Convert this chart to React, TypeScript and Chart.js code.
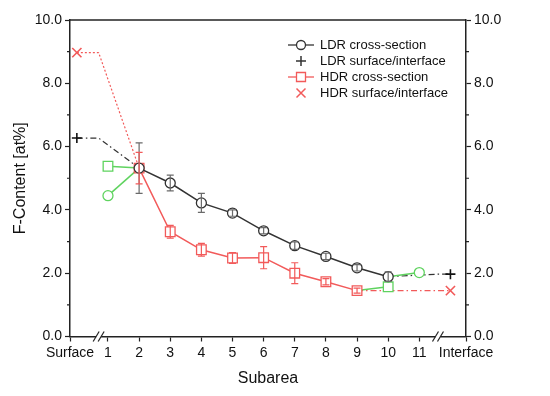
import React, { useEffect, useRef } from 'react';
import { Chart, registerables } from 'chart.js';

Chart.register(...registerables);

// ---- data ----
const subareas = [1, 2, 3, 4, 5, 6, 7, 8, 9, 10, 11];
const surfaceLabel = 'Surface';
const interfaceLabel = 'Interface';
const surfaceX = 0;
const interfaceX = 12;
const axisMinX = -0.22;
const axisMaxX = 12.5;
const breakLeftX = 0.7;
const breakRightX = 11.6;

const yTicks = [0, 2, 4, 6, 8, 10];
const yMinorTicks = [1, 3, 5, 7, 9];

const ldrX = [2, 3, 4, 5, 6, 7, 8, 9, 10];
const ldrY = [5.32, 4.85, 4.22, 3.9, 3.34, 2.87, 2.53, 2.17, 1.89];
const ldrErr = [0.8, 0.25, 0.3, 0.1, 0.1, 0.12, 0.1, 0.1, 0.15];

const hdrX = [2, 3, 4, 5, 6, 7, 8, 9];
const hdrY = [5.32, 3.31, 2.74, 2.48, 2.49, 2.0, 1.73, 1.45];
const hdrErr = [0.5, 0.2, 0.2, 0.17, 0.35, 0.33, 0.1, 0.08];

const ldrEdgeX = [1, 11];
const ldrEdgeY = [4.45, 2.02];
const hdrEdgeX = [1, 10];
const hdrEdgeY = [5.38, 1.57];

const ldrSurfaceY = 6.27;
const ldrInterfaceY = 1.97;
const hdrSurfaceY = 8.97;
const hdrInterfaceY = 1.45;

const legendLabels = ['LDR cross-section', 'LDR surface/interface', 'HDR cross-section', 'HDR surface/interface'];

// ---- styles ----
const FONT = '"Liberation Sans", Arial, Helvetica, sans-serif';
const INK = '#111111';
const AXIS = '#222222';
const LDR_COLOR = '#333333';
const LDR_ERR = '#6a6a6a';
const HDR_COLOR = '#f25a5a';
const GREEN = '#5fd35f';

const pts = (xs: number[], ys: number[]) => xs.map((x, i) => ({ x, y: ys[i] }));

const decorPlugin = {
  id: 'decor',
  afterDatasetsDraw(chart: any) {
    const { ctx, scales } = chart;
    const xs = scales.x;
    const ys = scales.y;
    const drawErr = (X: number[], Y: number[], E: number[], color: string) => {
      ctx.save();
      ctx.strokeStyle = color;
      ctx.lineWidth = 1.2;
      X.forEach((x, i) => {
        const px = xs.getPixelForValue(x);
        const t = ys.getPixelForValue(Y[i] + E[i]);
        const b = ys.getPixelForValue(Y[i] - E[i]);
        ctx.beginPath();
        ctx.moveTo(px, t);
        ctx.lineTo(px, b);
        ctx.moveTo(px - 3.5, t);
        ctx.lineTo(px + 3.5, t);
        ctx.moveTo(px - 3.5, b);
        ctx.lineTo(px + 3.5, b);
        ctx.stroke();
      });
      ctx.restore();
    };
    drawErr(ldrX, ldrY, ldrErr, LDR_ERR);
    drawErr(hdrX, hdrY, hdrErr, HDR_COLOR);
  },
  afterDraw(chart: any) {
    const { ctx, chartArea, scales } = chart;
    const { left, right, top, bottom } = chartArea;
    ctx.save();
    // top frame
    ctx.strokeStyle = AXIS;
    ctx.lineWidth = 1.5;
    ctx.beginPath();
    ctx.moveTo(left, top);
    ctx.lineTo(right, top);
    ctx.stroke();
    // minor ticks
    ctx.lineWidth = 1.2;
    yMinorTicks.forEach((v) => {
      const py = scales.y.getPixelForValue(v);
      ctx.beginPath();
      ctx.moveTo(left - 3, py);
      ctx.lineTo(left, py);
      ctx.moveTo(right, py);
      ctx.lineTo(right + 3, py);
      ctx.stroke();
    });
    // axis breaks
    [breakLeftX, breakRightX].forEach((bx) => {
      const px = scales.x.getPixelForValue(bx);
      ctx.fillStyle = '#ffffff';
      ctx.fillRect(px - 2.5, bottom - 2, 5, 4);
      ctx.strokeStyle = AXIS;
      ctx.lineWidth = 1.2;
      [-2.5, 2.5].forEach((o) => {
        ctx.beginPath();
        ctx.moveTo(px + o - 3, bottom + 5);
        ctx.lineTo(px + o + 3, bottom - 5);
        ctx.stroke();
      });
    });
    // legend
    const cx = right - 165;
    const tx = right - 146;
    const y0 = top + 25;
    const dy = 16;
    ctx.font = `13px ${FONT}`;
    ctx.textBaseline = 'middle';
    ctx.textAlign = 'left';
    legendLabels.forEach((lab, i) => {
      const yy = y0 + i * dy;
      const isHdr = i >= 2;
      const col = isHdr ? HDR_COLOR : LDR_COLOR;
      ctx.strokeStyle = col;
      ctx.lineWidth = 1.3;
      if (i === 0 || i === 2) {
        ctx.beginPath();
        ctx.moveTo(cx - 13, yy);
        ctx.lineTo(cx + 13, yy);
        ctx.stroke();
        ctx.fillStyle = '#ffffff';
        ctx.beginPath();
        if (i === 0) ctx.arc(cx, yy, 4.5, 0, Math.PI * 2);
        else ctx.rect(cx - 4.5, yy - 4.5, 9, 9);
        ctx.fill();
        ctx.stroke();
      } else if (i === 1) {
        ctx.lineWidth = 1.5;
        ctx.beginPath();
        ctx.moveTo(cx - 5, yy);
        ctx.lineTo(cx + 5, yy);
        ctx.moveTo(cx, yy - 5);
        ctx.lineTo(cx, yy + 5);
        ctx.stroke();
      } else {
        ctx.lineWidth = 1.5;
        ctx.beginPath();
        ctx.moveTo(cx - 4.5, yy - 4.5);
        ctx.lineTo(cx + 4.5, yy + 4.5);
        ctx.moveTo(cx + 4.5, yy - 4.5);
        ctx.lineTo(cx - 4.5, yy + 4.5);
        ctx.stroke();
      }
      ctx.fillStyle = INK;
      ctx.fillText(lab, tx, yy);
    });
    ctx.restore();
  },
};

export default function App() {
  const canvasRef = useRef<HTMLCanvasElement | null>(null);

  useEffect(() => {
    const canvas = canvasRef.current;
    if (!canvas) return;

    const datasets: any[] = [
      {
        label: legendLabels[0],
        data: pts(ldrX, ldrY),
        borderColor: LDR_COLOR,
        borderWidth: 1.5,
        pointStyle: 'circle',
        pointRadius: 5,
        pointBorderWidth: 1.3,
        pointBorderColor: LDR_COLOR,
        pointBackgroundColor: 'rgba(255,255,255,1)',
      },
      {
        label: legendLabels[2],
        data: pts(hdrX, hdrY),
        borderColor: HDR_COLOR,
        borderWidth: 1.5,
        pointStyle: 'rect',
        pointRadius: 6.8,
        pointBorderWidth: 1.3,
        pointBorderColor: HDR_COLOR,
        pointBackgroundColor: 'rgba(255,255,255,1)',
      },
      // green edge subareas
      {
        label: 'ldr-edge-left',
        data: [{ x: ldrEdgeX[0], y: ldrEdgeY[0] }, { x: ldrX[0], y: ldrY[0] }],
        borderColor: GREEN,
        borderWidth: 1.5,
        pointStyle: 'circle',
        pointRadius: [5, 0],
        pointBorderWidth: 1.3,
        pointBorderColor: GREEN,
        pointBackgroundColor: '#ffffff',
      },
      {
        label: 'ldr-edge-right',
        data: [{ x: ldrX[ldrX.length - 1], y: ldrY[ldrY.length - 1] }, { x: ldrEdgeX[1], y: ldrEdgeY[1] }],
        borderColor: GREEN,
        borderWidth: 1.5,
        pointStyle: 'circle',
        pointRadius: [0, 5],
        pointBorderWidth: 1.3,
        pointBorderColor: GREEN,
        pointBackgroundColor: '#ffffff',
      },
      {
        label: 'hdr-edge-left',
        data: [{ x: hdrEdgeX[0], y: hdrEdgeY[0] }, { x: hdrX[0], y: hdrY[0] }],
        borderColor: GREEN,
        borderWidth: 1.5,
        pointStyle: 'rect',
        pointRadius: [6.8, 0],
        pointBorderWidth: 1.3,
        pointBorderColor: GREEN,
        pointBackgroundColor: '#ffffff',
      },
      {
        label: 'hdr-edge-right',
        data: [{ x: hdrX[hdrX.length - 1], y: hdrY[hdrY.length - 1] }, { x: hdrEdgeX[1], y: hdrEdgeY[1] }],
        borderColor: GREEN,
        borderWidth: 1.5,
        pointStyle: 'rect',
        pointRadius: [0, 6.8],
        pointBorderWidth: 1.3,
        pointBorderColor: GREEN,
        pointBackgroundColor: '#ffffff',
      },
      // surface / interface connectors
      {
        label: legendLabels[1] + ' surface',
        data: [
          { x: surfaceX, y: ldrSurfaceY },
          { x: breakLeftX, y: ldrSurfaceY },
          { x: ldrX[0], y: ldrY[0] },
        ],
        borderColor: LDR_COLOR,
        borderWidth: 1.2,
        borderDash: [6, 3, 1.5, 3],
        pointStyle: 'cross',
        pointRadius: [5, 0, 0],
        pointBorderWidth: 1.6,
        pointBorderColor: '#111111',
      },
      {
        label: legendLabels[1] + ' interface',
        data: [
          { x: ldrX[ldrX.length - 1], y: ldrY[ldrY.length - 1] },
          { x: breakRightX, y: ldrInterfaceY },
          { x: interfaceX, y: ldrInterfaceY },
        ],
        borderColor: LDR_COLOR,
        borderWidth: 1.2,
        borderDash: [6, 3, 1.5, 3],
        pointStyle: 'cross',
        pointRadius: [0, 0, 5],
        pointBorderWidth: 1.6,
        pointBorderColor: '#111111',
      },
      {
        label: legendLabels[3] + ' surface',
        data: [
          { x: surfaceX, y: hdrSurfaceY },
          { x: breakLeftX, y: hdrSurfaceY },
          { x: hdrX[0], y: hdrY[0] },
        ],
        borderColor: HDR_COLOR,
        borderWidth: 1.2,
        borderDash: [2, 2],
        pointStyle: 'crossRot',
        pointRadius: [6.5, 0, 0],
        pointBorderWidth: 1.6,
        pointBorderColor: HDR_COLOR,
      },
      {
        label: legendLabels[3] + ' interface',
        data: [
          { x: hdrX[hdrX.length - 1], y: hdrY[hdrY.length - 1] },
          { x: interfaceX, y: hdrInterfaceY },
        ],
        borderColor: HDR_COLOR,
        borderWidth: 1.2,
        borderDash: [6, 3, 1.5, 3],
        pointStyle: 'crossRot',
        pointRadius: [0, 6.5],
        pointBorderWidth: 1.6,
        pointBorderColor: HDR_COLOR,
      },
    ];

    const tickFont = { family: FONT, size: 14 };
    const titleFont = { family: FONT, size: 16 };

    const chart = new Chart(canvas, {
      type: 'line',
      data: { datasets },
      plugins: [decorPlugin],
      options: {
        animation: false,
        responsive: false,
        maintainAspectRatio: false,
        layout: { padding: { top: 20, left: 0, right: 0, bottom: 0 } },
        plugins: {
          legend: { display: false },
          tooltip: { enabled: false },
        },
        elements: { line: { tension: 0, fill: false } },
        scales: {
          x: {
            type: 'linear',
            position: 'bottom',
            min: axisMinX,
            max: axisMaxX,
            afterBuildTicks: (scale: any) => {
              scale.ticks = [axisMinX, ...subareas, axisMaxX].map((v) => ({ value: v }));
            },
            afterFit: (scale: any) => {
              scale.height = 59.5;
            },
            ticks: {
              autoSkip: false,
              maxRotation: 0,
              minRotation: 0,
              padding: 3,
              color: INK,
              font: tickFont,
              callback: (v: any) =>
                v === axisMinX ? surfaceLabel : v === axisMaxX ? interfaceLabel : String(v),
            },
            grid: {
              display: true,
              drawOnChartArea: false,
              drawTicks: true,
              tickLength: 5,
              tickColor: AXIS,
              tickWidth: 1.2,
            },
            border: { display: true, color: AXIS, width: 1.5 },
            title: {
              display: true,
              text: 'Subarea',
              color: INK,
              font: titleFont,
              padding: { top: 0, bottom: 8 },
            },
          },
          y: {
            type: 'linear',
            position: 'left',
            min: 0,
            max: 10,
            afterBuildTicks: (scale: any) => {
              scale.ticks = yTicks.map((v) => ({ value: v }));
            },
            afterFit: (scale: any) => {
              scale.width = 70;
            },
            ticks: {
              padding: 3,
              color: INK,
              font: tickFont,
              callback: (v: any) => Number(v).toFixed(1),
            },
            grid: {
              display: true,
              drawOnChartArea: false,
              drawTicks: true,
              tickLength: 5,
              tickColor: AXIS,
              tickWidth: 1.2,
            },
            border: { display: true, color: AXIS, width: 1.5 },
            title: {
              display: true,
              text: 'F-Content [at%]',
              color: INK,
              font: titleFont,
              padding: { top: 11, bottom: 0 },
            },
          },
          y2: {
            type: 'linear',
            position: 'right',
            min: 0,
            max: 10,
            afterBuildTicks: (scale: any) => {
              scale.ticks = yTicks.map((v) => ({ value: v }));
            },
            afterFit: (scale: any) => {
              scale.width = 84;
            },
            ticks: {
              padding: 3,
              color: INK,
              font: tickFont,
              callback: (v: any) => Number(v).toFixed(1),
            },
            grid: {
              display: true,
              drawOnChartArea: false,
              drawTicks: true,
              tickLength: 5,
              tickColor: AXIS,
              tickWidth: 1.2,
            },
            border: { display: true, color: AXIS, width: 1.5 },
          },
        },
      } as any,
    });

    return () => {
      chart.destroy();
    };
  }, []);

  return (
    <div style={{ position: 'absolute', left: 0, top: 0, width: 550, height: 396, background: '#ffffff' }}>
      <canvas ref={canvasRef} width={550} height={396} style={{ display: 'block' }} />
    </div>
  );
}
